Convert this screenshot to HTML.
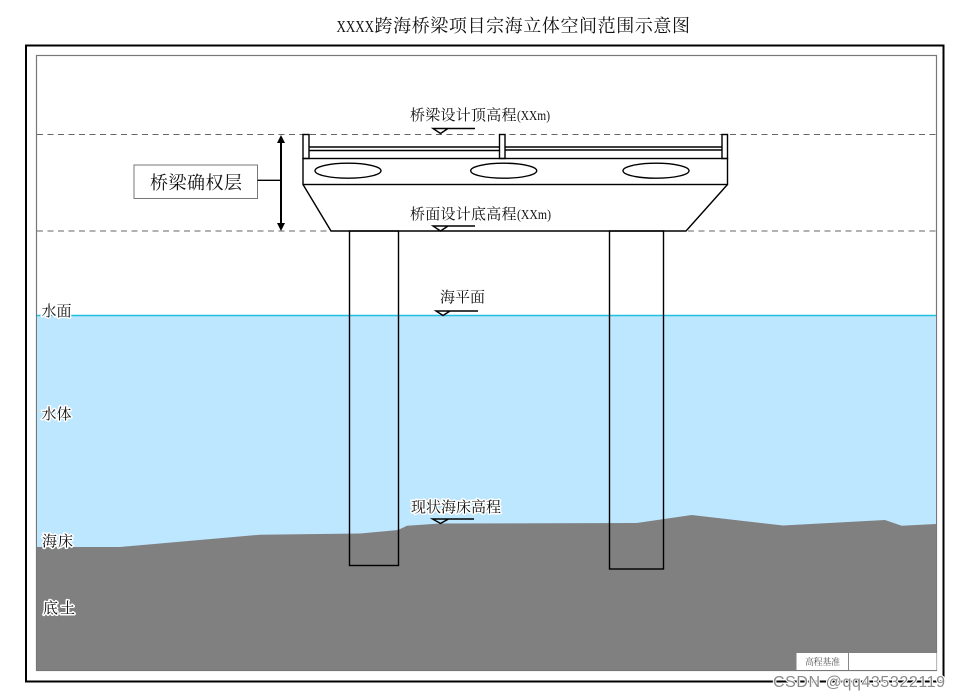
<!DOCTYPE html>
<html><head><meta charset="utf-8"><style>
html,body{margin:0;padding:0;background:#fff;width:959px;height:700px;overflow:hidden}
svg{display:block}
text{font-family:"Liberation Serif","Noto Serif CJK SC",serif;fill:#111}
.h{paint-order:stroke;stroke:#fff;stroke-width:3px;stroke-linejoin:round}
</style></head><body>
<svg width="959" height="700" viewBox="0 0 959 700" xmlns="http://www.w3.org/2000/svg">
<rect x="26" y="45.5" width="917.5" height="636" fill="#fff" stroke="#000" stroke-width="2"/>
<rect x="36.5" y="55.5" width="900" height="615" fill="#fff" stroke="#777" stroke-width="1.2"/>
<rect x="37" y="315.5" width="899" height="240" fill="#bde6ff"/>
<line x1="37" y1="315.5" x2="936" y2="315.5" stroke="#22c0e0" stroke-width="1.5"/>
<polygon points="37,547 120,547 260,534.7 360,533.5 398,530 407,525.7 440,523.5 636.7,523 691.7,515 783,525.5 885,520 901.7,525.7 936,524 936,670 37,670" fill="#808080"/>
<g stroke="#666" stroke-width="1" stroke-dasharray="6 4.5"><line x1="37" y1="134.5" x2="936" y2="134.5"/><line x1="37" y1="231" x2="936" y2="231"/></g>
<g fill="none" stroke="#000" stroke-width="1.4">
<rect x="349.5" y="231" width="49" height="334.5"/>
<rect x="609.5" y="231" width="54" height="338"/>
<rect x="303" y="158.5" width="424.5" height="26"/>
<polyline points="303,184.5 331,231 686,231 727.5,184.5"/>
<rect x="303" y="134.5" width="6" height="24"/><rect x="499.5" y="134.5" width="5.5" height="24"/><rect x="722" y="134.5" width="5.5" height="24"/>
<line x1="309" y1="147" x2="499.5" y2="147"/><line x1="309" y1="150.5" x2="499.5" y2="150.5"/>
<line x1="505" y1="147" x2="722" y2="147"/><line x1="505" y1="150" x2="722" y2="150"/>
<ellipse cx="348" cy="170.7" rx="33" ry="7.5"/><ellipse cx="503.7" cy="170.7" rx="33" ry="7.5"/><ellipse cx="656" cy="170.7" rx="33" ry="7.5"/>
<polyline points="475,128.5 433,128.5 440.5,133.5 448,128.5"/>
<polyline points="475,226 433,226 440.5,231 448,226"/>
<polyline points="478,311 436,311 443,315.5 450,311"/>
<polyline points="474,519 432.5,519 440.5,523.5 448.5,519"/>
</g>
<rect x="134" y="165" width="123.5" height="33.5" fill="#fff" stroke="#777" stroke-width="1"/>
<line x1="257.5" y1="180.3" x2="281" y2="180.3" stroke="#000" stroke-width="1.4"/>
<line x1="281" y1="140" x2="281" y2="226" stroke="#000" stroke-width="2"/>
<polygon points="281,135 285,143 277,143" fill="#000"/><polygon points="281,231 285,223 277,223" fill="#000"/>
<rect x="796.5" y="653" width="140" height="17" fill="#fff"/>
<line x1="848.5" y1="653" x2="848.5" y2="670" stroke="#888"/>
<text x="336.5" y="32" font-size="17" textLength="37.5" lengthAdjust="spacingAndGlyphs">XXXX</text>
<text x="374.5" y="32" font-size="18" textLength="315.5" lengthAdjust="spacing">跨海桥梁项目宗海立体空间范围示意图</text>
<text x="410" y="120" font-size="15" textLength="106.5" lengthAdjust="spacing">桥梁设计顶高程</text>
<text x="517" y="120" font-size="14" textLength="33" lengthAdjust="spacingAndGlyphs">(XXm)</text>
<text x="410" y="219" font-size="15" textLength="106.5" lengthAdjust="spacing">桥面设计底高程</text>
<text x="517" y="219" font-size="14" textLength="34" lengthAdjust="spacingAndGlyphs">(XXm)</text>
<text x="440" y="302" font-size="15" textLength="45" lengthAdjust="spacing">海平面</text>
<text class="h" x="411" y="512" font-size="15" textLength="90" lengthAdjust="spacing">现状海床高程</text>
<text x="150" y="189" font-size="18" textLength="92" lengthAdjust="spacing">桥梁确权层</text>
<text class="h" x="41.5" y="316" font-size="15" textLength="30">水面</text>
<text class="h" x="41.5" y="419" font-size="15" textLength="30">水体</text>
<text class="h" x="42" y="546" font-size="15" textLength="31">海床</text>
<text class="h" x="43" y="613" font-size="15" textLength="32">底土</text>
<text x="805" y="665" font-size="9" style="fill:#555" textLength="35">高程基准</text>
<text x="773" y="687" font-size="16" textLength="172" lengthAdjust="spacing" class="h" style="font-family:'Liberation Sans',sans-serif;fill:#8a8a8a;stroke-width:2px">CSDN @qq435322119</text>
</svg>
</body></html>
